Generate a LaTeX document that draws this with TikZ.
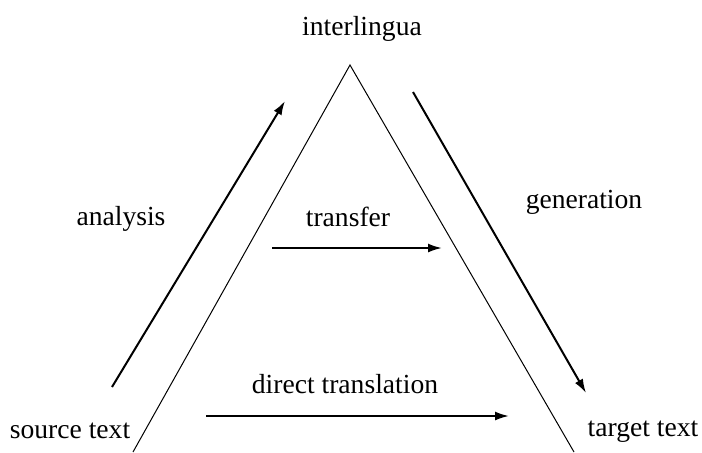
\documentclass[tikz,border=0pt]{standalone}
\usepackage{fontspec}
\setmainfont{Liberation Serif}
\usetikzlibrary{arrows.meta}

\tikzset{
  lbl/.style={anchor=base, inner sep=0pt, font=\fontsize{13.8}{16}\selectfont},
  flow/.style={line width=1pt, -{Latex[length=7pt,width=4.5pt]}},
  side/.style={line width=0.5pt}
}

\begin{document}
\begin{tikzpicture}[x=0.5pt,y=0.5pt,yscale=-1,xscale=1]
\path [use as bounding box] (0,0) rectangle (702,452); %diagram is 702 wide, 452 high

%Triangle
\coordinate (apex) at (350,65);
\coordinate (lbase) at (133,452);
\coordinate (rbase) at (574,452);
\draw [side] (lbase) -- (apex) -- (rbase) ;

%Arrow ends
\coordinate (anaS) at (112,387);
\coordinate (anaE) at (285,101);
\coordinate (genS) at (413,92);
\coordinate (genE) at (586,393);
\coordinate (trfS) at (272,248);
\coordinate (trfE) at (442,248);
\coordinate (dirS) at (206,416);
\coordinate (dirE) at (509,416);

%Straight Lines
\draw [flow] (anaS) -- (anaE) ;
\draw [flow] (genS) -- (genE) ;
\draw [flow] (trfS) -- (trfE) ;
\draw [flow] (dirS) -- (dirE) ;

% Text Node
\node [lbl] (inter) at (362,35) {interlingua};
% Text Node
\node [lbl] (analysis) at (121,225) {analysis};
% Text Node
\node [lbl] (transfer) at (348,226) {transfer};
% Text Node
\node [lbl] (generation) at (584,208) {generation};
% Text Node
\node [lbl] (direct) at (345,393) {direct translation};
% Text Node
\node [lbl] (source) at (70,438) {source text};
% Text Node
\node [lbl] (target) at (643,436) {target text};

\end{tikzpicture}
\end{document}
